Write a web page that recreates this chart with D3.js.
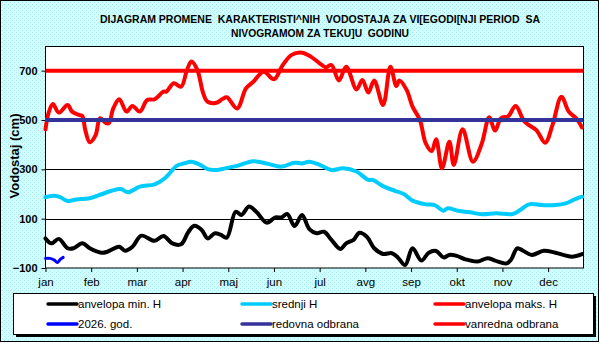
<!DOCTYPE html>
<html><head><meta charset="utf-8">
<script src="https://cdn.jsdelivr.net/npm/d3@7"></script>
<style>body{margin:0;padding:0;overflow:hidden;background:#fff}svg{display:block}text{font-family:"Liberation Sans",Arial,sans-serif;white-space:pre}</style>
</head><body><svg id="c" width="600" height="343"></svg>
<script>
// ---- data ----
const monthLabels = ["jan","feb","mar","apr","maj","jun","jul","avg","sep","okt","nov","dec"];
const monthDays = [0,31,62,93,124,155,186,217,248,279,310,341];
const yTicks = [-100,100,300,500,700];

const maxDays = [0,2,5,9,15,18,23,25,27,30,34,37,41,43,46,50,55,59,64,69,74,80,82,87,92,96,99,103,107,110,116,120,123,130,136,141,148,155,161,167,174,180,186,190,194,199,204,211,215,219,223,229,234,238,240,245,249,254,258,262,265,269,274,277,283,290,296,301,305,309,314,319,325,333,339,344,350,355,360,364];
const maxVals = [462,527,565,530,561,534,520,516,459,410,439,507,487,487,547,584,534,557,534,581,584,615,615,649,635,703,737,703,608,574,570,585,592,547,628,655,696,665,723,764,773,757,730,714,723,660,716,624,662,611,660,561,716,638,660,622,554,500,405,374,422,304,412,318,462,331,405,511,457,507,516,557,493,459,408,480,594,534,507,470];

const meanDays = [0,6,10,15,21,30,38,45,51,56,64,74,81,89,94,99,105,110,116,122,130,141,151,160,169,174,179,186,194,202,211,219,222,229,237,243,249,258,264,270,273,280,288,296,306,317,322,328,337,346,353,359,364];
const meanVals = [187,193,187,172,178,183,199,213,220,207,230,239,264,314,324,331,318,301,297,304,314,333,322,311,327,324,331,318,297,304,291,257,257,232,213,200,173,158,155,132,142,132,126,118,122,119,135,158,155,155,162,178,189];

const minDays = [0,4,9,15,19,25,30,38,42,50,54,59,65,74,80,86,92,97,101,106,110,115,119,123,129,133,138,143,150,156,160,164,169,174,179,184,189,194,200,204,209,213,218,223,229,235,239,244,249,255,260,265,270,274,279,285,293,300,305,313,316,320,324,330,338,346,357,364];
const minVals = [20,0,18,-20,-20,0,-20,-38,-34,-14,-30,-14,31,10,30,0,-4,47,71,54,20,41,34,23,128,115,149,128,84,105,105,119,70,115,58,41,47,14,-23,0,14,43,27,-20,-43,-40,-57,-88,-20,-70,-38,-31,-57,-47,-51,-65,-74,-60,-70,-81,-65,-20,-30,-47,-30,-38,-54,-44];

const curDays = [0,3,6,8,10,12];
const curVals = [-61,-61,-68,-78,-65,-57];

const redovna = 500;
const vanredna = 700;

const legendNames = ["anvelopa min. H","srednji H","anvelopa maks. H","2026. god.","redovna odbrana","vanredna odbrana"];
const legendColors = ["#000000","#00ccff","#ff0000","#0000ff","#333399","#ff0000"];

// ---- drawing ----
const svg = d3.select("#c");
const defs = svg.append("defs");
const pat = defs.append("pattern").attr("id","bgp").attr("width",4).attr("height",4).attr("patternUnits","userSpaceOnUse");
pat.append("rect").attr("width",4).attr("height",4).attr("fill","#ccffff");
pat.append("rect").attr("x",0).attr("y",0).attr("width",1).attr("height",1).attr("fill","#b4e8ec");
pat.append("rect").attr("x",2).attr("y",2).attr("width",1).attr("height",1).attr("fill","#b4e8ec");

svg.append("rect").attr("x",0.5).attr("y",0.5).attr("width",598).attr("height",341)
  .attr("fill","url(#bgp)").attr("stroke","#000").attr("stroke-width",1);

// title
svg.append("text").attr("x",320).attr("y",22.5).attr("text-anchor","middle")
  .attr("font-size",11).attr("font-weight","bold").attr("textLength",440).attr("lengthAdjust","spacingAndGlyphs")
  .text("DIJAGRAM PROMENE  KARAKTERISTI^NIH  VODOSTAJA ZA VI[EGODI[NJI PERIOD  SA");
svg.append("text").attr("x",320).attr("y",36.5).attr("text-anchor","middle")
  .attr("font-size",11).attr("font-weight","bold").attr("textLength",178).attr("lengthAdjust","spacingAndGlyphs")
  .text("NIVOGRAMOM ZA TEKU]U  GODINU");

const L = 45.5, R = 583.5, T = 46, B = 268;
const x = d3.scaleLinear().domain([0,365]).range([L,R]);
const y = d3.scaleLinear().domain([-100,800]).range([B,T]);

svg.append("rect").attr("x",L).attr("y",T).attr("width",R-L).attr("height",B-T).attr("fill","#fff");

// gridlines
svg.append("g").selectAll("line").data(yTicks.filter(v=>v>-100)).join("line")
  .attr("x1",L).attr("x2",R).attr("y1",d=>Math.round(y(d))+0.5).attr("y2",d=>Math.round(y(d))+0.5)
  .attr("stroke","#000").attr("stroke-width",1);

svg.append("rect").attr("x",L).attr("y",T+0.5).attr("width",R-L).attr("height",B-T-0.5)
  .attr("fill","none").attr("stroke","#000").attr("stroke-width",1);

// axes
const xAxis = d3.axisBottom(x).tickValues(monthDays).tickFormat((d,i)=>monthLabels[i]).tickSize(4).tickPadding(6).tickSizeOuter(0);
const gx = svg.append("g").attr("transform",`translate(0,${B})`).call(xAxis);
gx.select(".domain").remove();
gx.selectAll("text").attr("font-size",11.5).attr("font-family","'Liberation Sans',Arial,sans-serif").attr("fill","#000");
gx.selectAll("line").attr("stroke","#000");

const yAxis = d3.axisLeft(y).tickValues(yTicks).tickSize(4).tickPadding(4).tickSizeOuter(0);
const gy = svg.append("g").attr("transform",`translate(${L},0)`).call(yAxis);
gy.select(".domain").remove();
gy.selectAll("text").attr("font-size",11).attr("font-weight","bold").attr("font-family","'Liberation Sans',Arial,sans-serif").attr("fill","#000");
gy.selectAll("line").attr("stroke","#000");

svg.append("text").attr("transform","translate(19,156) rotate(-90)").attr("text-anchor","middle")
  .attr("font-size",13).attr("font-weight","bold").text("Vodostaj (cm)");

// series
const line = d3.line().x(d=>x(d[0])).y(d=>y(d[1])).curve(d3.curveCatmullRom.alpha(0.5));
const plotG = svg.append("g");
function series(days, vals, color, w){
  plotG.append("path").datum(days.map((d,i)=>[d,vals[i]])).attr("d",line)
    .attr("fill","none").attr("stroke",color).attr("stroke-width",w).attr("stroke-linejoin","round").attr("stroke-linecap","round");
}
series(minDays, minVals, legendColors[0], 4);
series(meanDays, meanVals, legendColors[1], 4);
series(maxDays, maxVals, legendColors[2], 4);
series(curDays, curVals, legendColors[3], 3);
plotG.append("line").attr("x1",L).attr("x2",R).attr("y1",y(redovna)).attr("y2",y(redovna)).attr("stroke",legendColors[4]).attr("stroke-width",4);
plotG.append("line").attr("x1",L).attr("x2",R).attr("y1",y(vanredna)).attr("y2",y(vanredna)).attr("stroke",legendColors[5]).attr("stroke-width",4);

// legend
svg.append("rect").attr("x",16).attr("y",296).attr("width",580).attr("height",41).attr("fill","#000");
svg.append("rect").attr("x",13.5).attr("y",293.5).attr("width",580).attr("height",41).attr("fill","#fff").attr("stroke","#000");
const colX = [48,242,435];
const rowY = [304,324];
legendNames.forEach((n,i)=>{
  const cx = colX[i%3], cy = rowY[Math.floor(i/3)];
  svg.append("line").attr("x1",cx).attr("x2",cx+29).attr("y1",cy).attr("y2",cy)
    .attr("stroke",legendColors[i]).attr("stroke-width",3.5).attr("stroke-linecap","round");
  svg.append("text").attr("x",cx+30).attr("y",cy+4).attr("font-size",11.5).text(n);
});
</script></body></html>
